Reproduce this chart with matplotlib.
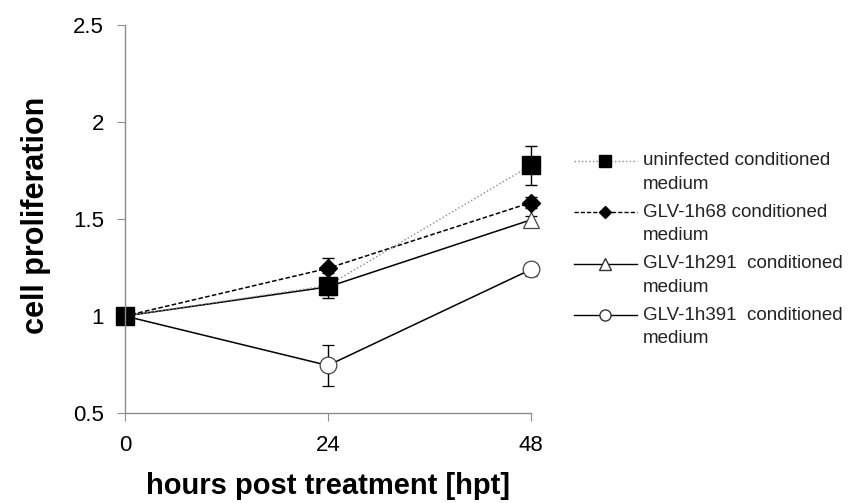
import matplotlib
matplotlib.use("Agg")
import matplotlib.pyplot as plt
from matplotlib.lines import Line2D

plt.rcParams['font.family'] = ['Liberation Sans', 'DejaVu Sans']

hours = [0, 24, 48]
uninfected = [1.0, 1.157, 1.777]
uninfected_err = [0.0, 0.063, 0.10]
glv68 = [1.0, 1.246, 1.585]
glv68_err = [0.0, 0.052, 0.03]
glv291 = [1.0, 1.15, 1.496]
glv291_err = [0.0, 0.02, 0.02]
glv391 = [1.0, 0.745, 1.24]
glv391_err = [0.0, 0.106, 0.035]

labels = ["uninfected conditioned\nmedium",
          "GLV-1h68 conditioned\nmedium",
          "GLV-1h291  conditioned\nmedium",
          "GLV-1h391  conditioned\nmedium"]

fig = plt.figure(figsize=(8.55, 5.03), dpi=100)
ax = fig.add_axes([0.146, 0.179, 0.475, 0.771])

common = dict(ecolor='black', elinewidth=1.0, capsize=4.5, capthick=1.0,
              clip_on=False)

e4 = ax.errorbar(hours, glv391, yerr=glv391_err, fmt='-', marker='o', ms=12,
                 color='black', mfc='white', mec='#444444', mew=0.9, lw=1.1,
                 **common)
e3 = ax.errorbar(hours, glv291, yerr=glv291_err, fmt='-', marker='^', ms=11,
                 color='black', mfc='white', mec='#444444', mew=0.9, lw=1.1,
                 **common)
e2 = ax.errorbar(hours, glv68, yerr=glv68_err, fmt='--', marker='D', ms=9,
                 color='black', mfc='black', mec='black', lw=1.1,
                 dashes=(3, 1.5), **common)
e1 = ax.errorbar(hours, uninfected, yerr=uninfected_err, fmt=':', marker='s',
                 ms=12.5, color='#888888', mfc='black', mec='black', lw=1.0,
                 **common)
for e in (e1, e2, e3, e4):
    e[0].set_clip_on(False)
    for c in e[1]:
        c.set_clip_on(False)
    for b in e[2]:
        b.set_clip_on(False)

ax.set_xlim(0, 48)
ax.set_ylim(0.5, 2.5)
ax.set_xticks([0, 24, 48])
ax.set_yticks([0.5, 1, 1.5, 2, 2.5])
ax.set_yticklabels(['0.5', '1', '1.5', '2', '2.5'])
for s in ('top', 'right'):
    ax.spines[s].set_visible(False)
for s in ('left', 'bottom'):
    ax.spines[s].set_color('#8c8c8c')
    ax.spines[s].set_linewidth(1.0)
ax.tick_params(axis='both', colors='#8c8c8c', labelcolor='black',
               labelsize=16, length=6, direction='out')
ax.tick_params(axis='x', pad=10)
ax.tick_params(axis='y', pad=9)

ax.set_xlabel('hours post treatment [hpt]', fontsize=21, fontweight='bold')
ax.set_ylabel('cell proliferation', fontsize=22, fontweight='bold')
ax.xaxis.set_label_coords(0.5, -0.153)
ax.yaxis.set_label_coords(-0.183, 0.51)

handles = [
    Line2D([], [], color='#888888', ls=':', lw=1.0, marker='s', ms=9,
           mfc='black', mec='black'),
    Line2D([], [], color='black', ls='--', dashes=(3, 1.5), lw=1.0,
           marker='D', ms=6.5, mfc='black', mec='black'),
    Line2D([], [], color='black', ls='-', lw=1.0, marker='^', ms=8,
           mfc='white', mec='#333333'),
    Line2D([], [], color='black', ls='-', lw=1.0, marker='o', ms=8,
           mfc='white', mec='#333333'),
]
leg = fig.legend(handles, labels, loc='upper left',
                 bbox_to_anchor=(0.662, 0.712), frameon=False, fontsize=13.5,
                 handlelength=3.4, handletextpad=0.3, labelspacing=0.6,
                 borderaxespad=0)
for t in leg.get_texts():
    t.set_linespacing(1.48)
    t.set_color('#222222')
# line the handles up with the first line of each two-line label
for h in leg.legend_handles:
    h.set_ydata([y + 8.3 for y in h.get_ydata()])

fig.savefig('out.png', dpi=100)
